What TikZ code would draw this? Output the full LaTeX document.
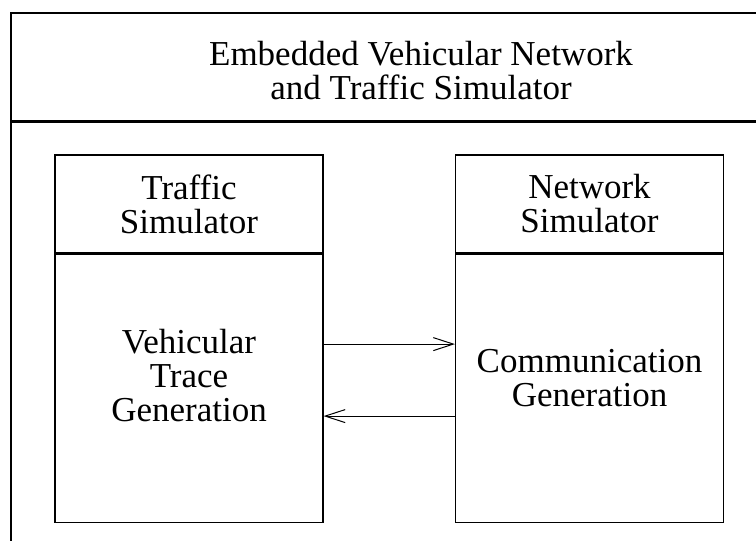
\documentclass[tikz,border=0pt]{standalone}
\usepackage{fontspec}
\setmainfont{Liberation Serif}
\usetikzlibrary{arrows.meta,positioning}
\newcommand{\simfont}{\fontsize{35}{34}\selectfont}
\tikzstyle{arrow} = [line width=1pt,-{Straight Barb[length=20pt,width=13pt,line width=1pt]}]
\tikzstyle{frame} = [rectangle, draw, line width=1.3pt, minimum width=820pt, inner sep=0pt]
\tikzstyle{simhead} = [rectangle, draw, line width=1.1pt, minimum width=268pt, minimum height=98pt, inner sep=0pt, align=center, font=\simfont]
\tikzstyle{simbody} = [rectangle, draw, line width=1.1pt, minimum width=268pt, minimum height=268pt, inner sep=0pt]
\tikzstyle{simtext} = [align=center, font=\simfont]

\begin{document}
\begin{tikzpicture}[x=1pt, y=1pt]
    \useasboundingbox (0,0) rectangle (756,-541);
    \clip (0,0) rectangle (756,-541);
    % Outer frame
    \node[frame, minimum height=108pt] (embedded) at (421,-67) {};
    \node[frame, minimum height=500pt, below=0pt of embedded] (outer) {};
    \node[simtext] (embeddedtext) at (421,-71) {Embedded Vehicular Network\\and Traffic Simulator};

    % Nodes
    \node[simhead] (traffichead) at (189,-204) {Traffic\\Simulator};
    \node[simbody, below=0pt of traffichead] (trafficbody) {};
    \node[simhead] (networkhead) at (589.5,-204) {Network\\Simulator};
    \node[simbody, below=0pt of networkhead] (networkbody) {};
    \node[simtext] (tracetext) at (189,-376) {Vehicular\\Trace\\Generation};
    \node[simtext] (commtext) at (589.5,-378) {Communication\\Generation};

    % Arrows
    \draw[arrow] ([yshift=44pt]trafficbody.east) -- ([yshift=44pt]networkbody.west);
    \draw[arrow] ([yshift=-28pt]networkbody.west) -- ([yshift=-28pt]trafficbody.east);
\end{tikzpicture}
\end{document}
